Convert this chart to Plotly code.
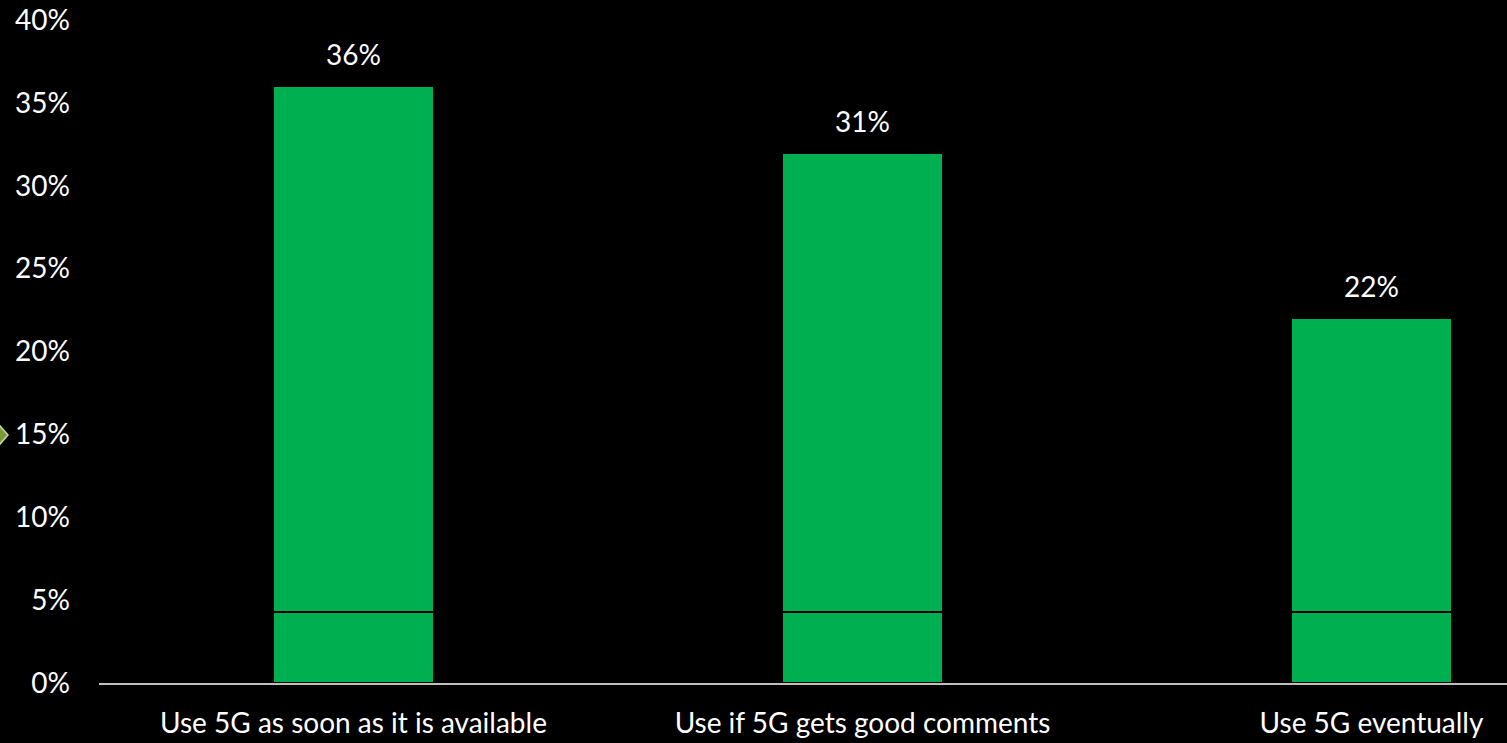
import plotly.graph_objects as go

categories = ["Use 5G as soon as it is available", "Use if 5G gets good comments", "Use 5G eventually"]
base_segment = [4.3, 4.3, 4.3]
upper_segment = [31.7, 27.7, 17.7]
totals = [36, 32, 22]
value_labels = ["36%", "31%", "22%"]
y_ticks = [0, 5, 10, 15, 20, 25, 30, 35, 40]
y_tick_labels = ["0%", "5%", "10%", "15%", "20%", "25%", "30%", "35%", "40%"]

W, H = 1507, 743
ML, MR, MT, MB = 99, 0, 20, 60
GREEN = "#00B050"
FONT = "Lato"
FS = 28

fig = go.Figure()
for seg in (base_segment, upper_segment):
    fig.add_trace(go.Bar(
        x=categories, y=seg, width=0.318,
        marker=dict(color=GREEN, line=dict(color="black", width=2)),
        hoverinfo="skip", showlegend=False,
    ))

for c, t, lab in zip(categories, totals, value_labels):
    fig.add_annotation(x=c, y=t, text=lab, showarrow=False, yanchor="bottom",
                       yshift=13, font=dict(color="white", size=FS, family=FONT))

# small decorative marker at the left edge
pw = W - ML - MR
px = lambda p: (p - ML) / pw
ph = H - MT - MB
py = lambda p: (H - MB - p) / ph
fig.add_shape(type="path", xref="paper", yref="paper",
              path=f"M {px(-8)} {py(435)} L {px(0)} {py(426)} L {px(8)} {py(435)} L {px(0)} {py(444)} Z",
              fillcolor="#7a9a3a", line=dict(color="#c8d9a0", width=1.5))

fig.update_layout(
    width=W, height=H, barmode="stack",
    paper_bgcolor="black", plot_bgcolor="black",
    margin=dict(l=ML, r=MR, t=MT, b=MB),
    font=dict(family=FONT, color="white", size=FS),
    xaxis=dict(type="category", range=[-0.5, -0.5 + (W - ML) / 509],
               showline=True, linecolor="#bfbfbf", linewidth=2,
               showgrid=False, ticks="", tickfont=dict(size=FS, color="white"),
               ticklabelstandoff=14),
    yaxis=dict(range=[0, 40], tickvals=y_ticks, ticktext=y_tick_labels,
               showgrid=False, zeroline=False, showline=False, ticks="",
               tickfont=dict(size=FS, color="white"), ticklabelstandoff=28),
)

fig.write_html("out.html")
